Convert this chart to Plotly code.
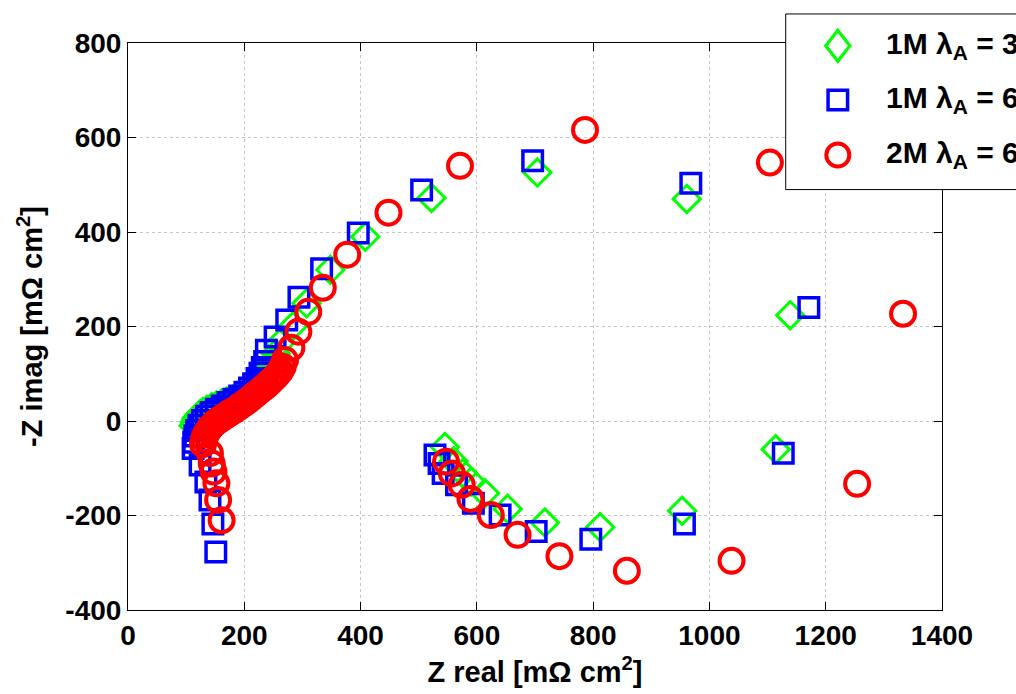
import plotly.graph_objects as go

# Nyquist data, Z real / -Z imag in mOhm cm^2
green_x = [113, 115, 118, 123, 129, 136, 144, 152, 161, 170, 180, 190, 200, 209, 218, 226, 233, 239, 244, 249, 254,
           261, 284, 307, 348, 408, 522, 704, 961, 1139,
           1114, 953, 812, 717, 653, 614, 590, 576, 560, 545]
green_y = [-10, -2, 6, 13, 19, 24, 29, 33, 37, 41, 45, 50, 55, 61, 68, 77, 88, 100, 113, 127, 143,
           164, 201, 249, 320, 390, 472, 526, 470, 224,
           -60, -190, -225, -215, -186, -153, -128, -110, -85, -55]

blue_x = [151, 146, 141, 134, 124, 112, 113, 115, 118, 122, 128, 135, 143, 152, 162, 172, 182, 192, 201, 209, 216,
          222, 227, 231, 235, 238, 253, 273, 294,
          333, 396, 505, 696, 968, 1171, 1127, 957, 796, 702, 640, 594, 565, 542, 535, 528]
blue_y = [-277, -218, -167, -129, -93, -58, -45, -32, -20, -9, 1, 10, 18, 25, 32, 39, 46, 53, 61, 70, 79,
          90, 101, 113, 126, 150, 178, 214, 262,
          322, 398, 489, 551, 503, 240, -68, -218, -250, -234, -199, -174, -135, -111, -90, -72]

red_x = [161, 155, 152, 147, 144, 141, 129, 131, 134, 138, 142, 147, 152, 158, 164, 170, 176, 183, 190, 197, 204,
         211, 218, 225, 232, 238, 244, 249, 254, 258, 262, 266, 270,
         281, 293, 310, 335, 377, 448, 571, 786, 1104, 1333, 1254, 1038, 858, 742, 670, 624, 589, 574, 557, 547]
red_y = [-210, -167, -132, -107, -90, -68, -49, -38, -28, -20, -13, -7, -2, 3, 8, 13, 18, 23, 29, 35, 41,
         48, 55, 62, 69, 75, 82, 88, 94, 100, 106, 115, 129,
         155, 189, 231, 282, 352, 441, 540, 616, 547, 227, -133, -296, -317, -286, -241, -199, -165, -135, -111, -86]

series_names = ["1M λ<sub>A</sub> = 3", "1M λ<sub>A</sub> = 6", "2M λ<sub>A</sub> = 6"]
x_ticks = [0, 200, 400, 600, 800, 1000, 1200, 1400]
y_ticks = [-400, -200, 0, 200, 400, 600, 800]

GREEN, BLUE, RED = "#00ff00", "#0000ff", "#ff0000"
FONT = "Liberation Sans, Arial, sans-serif"

fig = go.Figure()
fig.add_trace(go.Scatter(x=green_x, y=green_y, mode="markers", name=series_names[0],
                         marker=dict(symbol="diamond-open", size=21, color=GREEN, line=dict(width=3, color=GREEN))))
fig.add_trace(go.Scatter(x=blue_x, y=blue_y, mode="markers", name=series_names[1],
                         marker=dict(symbol="square-open", size=19.5, color=BLUE, line=dict(width=3.5, color=BLUE))))
fig.add_trace(go.Scatter(x=red_x, y=red_y, mode="markers", name=series_names[2],
                         marker=dict(symbol="circle-open", size=24, color=RED, line=dict(width=4, color=RED))))

axis_common = dict(
    showline=True, linecolor="black", linewidth=1, mirror="ticks",
    ticks="inside", ticklen=8, tickcolor="black", tickwidth=1,
    showgrid=True, gridcolor="#c4c4c4", griddash="dot", gridwidth=1,
    zeroline=False,
    tickfont=dict(family=FONT, size=28, color="black", weight="bold"),
)

fig.update_xaxes(range=[0, 1400], tickvals=x_ticks, ticktext=[str(v) for v in x_ticks],
                 title=dict(text="Z real [mΩ cm<sup>2</sup>]", standoff=12,
                            font=dict(family=FONT, size=29, color="black", weight="bold")),
                 **axis_common)
fig.update_yaxes(range=[-400, 800], tickvals=y_ticks, ticktext=[str(v) for v in y_ticks],
                 title=dict(text="-Z imag [mΩ cm<sup>2</sup>]", standoff=14,
                            font=dict(family=FONT, size=29, color="black", weight="bold")),
                 **axis_common)

# Legend box (white, drawn above the axes frame) with its symbols
shapes = [dict(type="rect", xref="paper", yref="paper", x0=0.808, x1=1.4, y0=0.7415, y1=1.0512,
               line=dict(color="black", width=1), fillcolor="white", layer="above")]
sym_x = 0.872
rows_y = [0.995, 0.8995, 0.8025]
shapes.append(dict(type="path", xref="paper", yref="paper", xsizemode="pixel", ysizemode="pixel",
                   xanchor=sym_x, yanchor=rows_y[0], path="M 0,15.5 L 12,0 L 0,-15.5 L -12,0 Z",
                   line=dict(color=GREEN, width=3.2), layer="above"))
shapes.append(dict(type="rect", xref="paper", yref="paper", xsizemode="pixel", ysizemode="pixel",
                   xanchor=sym_x, yanchor=rows_y[1], x0=-9.75, x1=9.75, y0=-9.75, y1=9.75,
                   line=dict(color=BLUE, width=3.5), layer="above"))
shapes.append(dict(type="circle", xref="paper", yref="paper", xsizemode="pixel", ysizemode="pixel",
                   xanchor=sym_x, yanchor=rows_y[2], x0=-11.5, x1=11.5, y0=-11.5, y1=11.5,
                   line=dict(color=RED, width=4), layer="above"))

annotations = [dict(text=name, xref="paper", yref="paper", x=0.929, y=yy, xanchor="left", yanchor="middle",
                    showarrow=False, font=dict(family=FONT, size=30, color="black", weight="bold"))
               for name, yy in zip(series_names, rows_y)]

fig.update_layout(
    width=1016, height=694,
    margin=dict(l=128, r=74, t=43, b=84, autoexpand=False),
    paper_bgcolor="white", plot_bgcolor="white",
    showlegend=False,
    shapes=shapes, annotations=annotations,
    font=dict(family=FONT, color="black"),
)

fig.write_html("out.html")
